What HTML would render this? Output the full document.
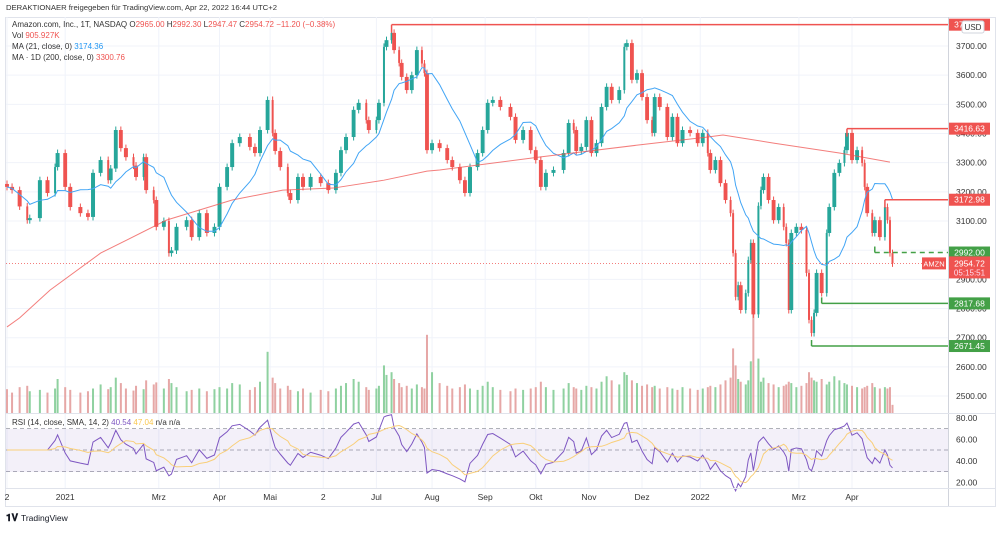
<!DOCTYPE html>
<html><head><meta charset="utf-8">
<style>
body{margin:0;background:#fff;font-family:"Liberation Sans",sans-serif;}
svg text{font-family:"Liberation Sans",sans-serif;}
</style></head>
<body>
<svg id="c" width="1000" height="529" viewBox="0 0 1000 529" xmlns="http://www.w3.org/2000/svg">
<text x="6" y="10" font-size="7.7" fill="#333">DERAKTIONAER freigegeben für TradingView.com, Apr 22, 2022 16:44 UTC+2</text>
<rect x="5.5" y="17.5" width="990" height="489" fill="#fff" stroke="#e0e3eb"/>
<g id="grid"></g>
<rect x="6" y="429" width="942" height="43" fill="#7e57c2" fill-opacity="0.09"/>
<g id="vol"></g><g id="candles"></g><g id="lines"></g><g id="levellines"></g>
<line x1="948.5" y1="17" x2="948.5" y2="506" stroke="#d1d4dc"/>
<line x1="6" y1="413.5" x2="996" y2="413.5" stroke="#e0e3eb"/>
<line x1="6" y1="488.5" x2="996" y2="488.5" stroke="#e0e3eb"/>
<g id="axis"></g><g id="levels"></g>
<g font-size="8">
<text x="12" y="27" fill="#333">Amazon.com, Inc., 1T, NASDAQ <tspan fill="#333">O</tspan><tspan fill="#ef5350">2965.00</tspan> H<tspan fill="#ef5350">2992.30</tspan> L<tspan fill="#ef5350">2947.47</tspan> C<tspan fill="#ef5350">2954.72</tspan> <tspan fill="#ef5350">−11.20 (−0.38%)</tspan></text>
<text x="12" y="38" fill="#333">Vol <tspan fill="#ef5350">905.927K</tspan></text>
<text x="12" y="49" fill="#333">MA (21, close, 0) <tspan fill="#2196f3">3174.36</tspan></text>
<text x="12" y="60" fill="#333">MA · 1D (200, close, 0) <tspan fill="#ef5350">3300.76</tspan></text>
<text x="12" y="425" fill="#333">RSI (14, close, SMA, 14, 2) <tspan fill="#7e57c2">40.54</tspan> <tspan fill="#f9c74f">47.04</tspan> n/a n/a</text>
</g>
<text x="6" y="521" font-size="10" font-weight="bold" fill="#131722">𝟏𝐕 <tspan font-weight="normal" font-size="8.5">TradingView</tspan></text>
</svg>
<script>
const days=[0,2,5,8,9,13,16,19,20,23,25,29,32,34,37,40,41,43,45,47,50,51,54,55,58,59,62,64,65,67,71,73,76,79,82,84,87,89,92,96,98,100,103,105,106,108,111,112,115,117,120,124,127,130,132,134,137,139,142,143,146,147,149,150,152,153,155,156,158,160,162,164,165,166,168,171,174,176,179,181,183,186,188,190,192,195,199,201,204,207,209,211,213,216,220,222,224,225,227,229,231,233,235,237,239,242,244,245,247,249,251,253,255,256,258,261,263,265,267,270,273,275,277,278,280,282,284,286,287,288,289,290,292,293,294,295,297,298,299,301,303,305,307,308,309,310,312,314,316,317,318,319,320,322,324,325,327,329,331,332,334,336,338,339,340,342,343,345,347,348,349,350];
const closes=[3217,3206,3150,3103,3110,3240,3196,3285,3333,3217,3148,3127,3114,3265,3309,3240,3280,3412,3350,3319,3290,3251,3319,3206,3172,3080,3100,2990,2999,3080,3103,3045,3127,3059,3080,3217,3285,3367,3388,3354,3333,3412,3515,3402,3340,3285,3196,3172,3251,3217,3251,3230,3206,3265,3343,3388,3481,3505,3446,3412,3446,3505,3697,3720,3745,3686,3642,3594,3549,3600,3686,3640,3607,3343,3367,3350,3309,3285,3240,3196,3285,3333,3412,3505,3515,3491,3457,3378,3412,3343,3309,3217,3265,3275,3333,3436,3412,3340,3354,3446,3333,3367,3491,3560,3515,3549,3697,3710,3584,3607,3525,3446,3402,3525,3491,3388,3457,3367,3412,3402,3367,3402,3333,3275,3309,3230,3172,3127,2990,2840,2880,2795,2853,2966,3025,2780,3152,3206,3251,3172,3103,3148,3080,3025,2795,3059,3080,3069,2922,2761,2716,2785,2922,2853,3059,3148,3265,3299,3343,3402,3309,3343,3299,3217,3127,3059,3103,3045,3148,3103,2990,2955];
const volumes=[3.5,3,3.8,4,3.2,3.4,3,3.6,5,3.8,3.4,3,3.2,3.6,4.2,3.5,3.8,5.2,4.4,3.6,3.3,4,3.5,4.8,4.2,4.5,3.6,5,4.4,3.8,3.2,3.4,3.6,3.2,3.5,3.8,3.6,4.4,4.2,3.4,3.8,4.6,9,5.2,4.4,3.6,4,3.4,3.2,3.6,3,3.4,3.2,3.6,4,4.4,5,4.6,3.8,3.4,3.6,4,7,5.6,6,5,4.4,3.8,4,3.6,4.2,3.8,3.6,11.5,6,4.4,4,3.6,3.8,4.2,3.6,3.4,4,4.6,3.8,3.4,3.2,3.6,3.4,3.6,3.8,4.6,3.8,3.4,3.6,4.4,3.8,3.6,3.4,4,3.8,3.6,4.6,5.4,4.8,4.2,6,5.6,4.8,4.4,4,4.2,3.8,4,3.6,3.8,3.6,3.4,3.8,3.6,3.4,3.6,3.8,4,3.8,4.2,4.8,5.2,9.5,7,5,4.6,4.2,4.8,7.6,15.5,8,4.6,5.2,4.4,4.2,3.8,4,4.2,4.6,4.4,3.8,4,4.4,6,5.2,4.8,4.6,5,4.2,4.6,5.4,4.8,4.4,4.2,4,3.8,3.6,3.8,4,4.4,3.8,3.6,3.8,3.6,3.8,1.2];
const ma200Days=[0,5,17,37,63,89,109,129,149,166,171,211,250,277,283,303,329,349];
const ma200Vals=[2737,2768,2863,2990,3103,3172,3206,3213,3240,3271,3275,3320,3361,3388,3395,3367,3333,3302];
const priceTicks=[3700,3600,3500,3400,3300,3200,3100,3000,2900,2800,2700,2600,2500];
const rsiTicks=[80,60,40,20];
const timeLabels=["2","2021","Mrz","Apr","Mai","2","Jul","Aug","Sep","Okt","Nov","Dez","2022","Mrz","Apr"];
const timeDays=[0,23,60,84,104,125,146,168,189,209,230,251,274,313,334];
const levelVals=[3773.08,3416.63,3172.98,2992.00,2817.68,2671.45];
const levelStartDays=[152,332,347,343,322,318];
const levelColors=["#ef5350","#ef5350","#ef5350","#43a047","#43a047","#43a047"];
const lastPrice=2954.72;

const NS="http://www.w3.org/2000/svg";
const xS=d=>7+d*2.53;
const yP=p=>46+(3700-p)*0.2917;
const yR=v=>450+(50-v)*1.075;
const yV=v=>413-v*6.8;
function mk(tag,attrs,parent){const e=document.createElementNS(NS,tag);for(const k in attrs)e.setAttribute(k,attrs[k]);parent.appendChild(e);return e;}
const G=id=>document.getElementById(id);

priceTicks.forEach(p=>{const l=mk('line',{x1:6,x2:948,y1:yP(p),y2:yP(p),stroke:'#f0f3fa'},G('grid'));

});
timeDays.forEach(d=>{const l=mk('line',{x1:xS(d),x2:xS(d),y1:17,y2:488,stroke:'#f0f3fa'},G('grid'));

});
[70,50,30].forEach(v=>{const l=mk('line',{x1:6,x2:948,y1:yR(v),y2:yR(v),stroke:'#9598a1','stroke-dasharray':'4,3','stroke-width':0.8},G('grid'));

});

for(let i=0;i<closes.length;i++){
 const o=i?closes[i-1]:closes[i]+10,c=closes[i];
 const up=c>=o,col=up?'#26a69a':'#ef5350';
 const x=xS(days[i]);
 const gap=i<closes.length-1?(days[i+1]-days[i])*2.53:2.53;
 const w=Math.max(2,Math.min(4,gap-1.2));
 const hi=Math.max(o,c)+12,lo=Math.min(o,c)-12;
 const wk=mk('line',{x1:x,x2:x,y1:yP(hi),y2:yP(lo),stroke:col,'stroke-width':1},G('candles'));
 
 
 const b=mk('rect',{x:x-w/2,y:yP(Math.max(o,c)),width:w,height:Math.max(1,Math.abs(yP(o)-yP(c))),fill:col},G('candles'));
 
 
 const v=mk('rect',{x:x-1,y:yV(volumes[i]),width:2,height:413-yV(volumes[i]),fill:up?'#8fd1a0':'#e6a7a6'},G('vol'));
 
 
}
let pts=[];
for(let i=0;i<closes.length;i++){let s=0,n=0;for(let j=i;j>=0&&days[i]-days[j]<21;j--){s+=closes[j];n++;}pts.push(xS(days[i])+','+yP(s/n));}
const ma21=mk('polyline',{points:pts.join(' '),fill:'none',stroke:'#42a5f5','stroke-width':1},G('lines'));


const m2=mk('polyline',{points:ma200Days.map((d,i)=>xS(d)+','+yP(ma200Vals[i])).join(' '),fill:'none',stroke:'#ef5350','stroke-opacity':0.75,'stroke-width':1},G('lines'));


const P=7;let rsi=[],ag=0,al=0;
for(let i=1;i<closes.length;i++){const ch=closes[i]-closes[i-1];const g=Math.max(ch,0),l=Math.max(-ch,0);
 if(i<=P){ag+=g/P;al+=l/P;}else{ag=(ag*(P-1)+g)/P;al=(al*(P-1)+l)/P;}
 rsi.push(i<P?50:100-100/(1+ag/(al||1e-6)));}
rsi.unshift(50);
let sm=rsi.map((v,i)=>{let s=0,n=0;for(let j=i;j>=0&&j>i-7;j--){s+=rsi[j];n++;}return s/n;});
const rl=mk('polyline',{points:rsi.map((v,i)=>xS(days[i])+','+yR(v)).join(' '),fill:'none',stroke:'#7e57c2','stroke-width':1},G('lines'));


const rs=mk('polyline',{points:sm.map((v,i)=>xS(days[i])+','+yR(v)).join(' '),fill:'none',stroke:'#f9cf7a','stroke-width':1},G('lines'));


const lp=mk('line',{x1:6,x2:948,y1:yP(lastPrice),y2:yP(lastPrice),stroke:'#ef5350','stroke-dasharray':'1,2','stroke-width':0.8},G('levellines'));


levelVals.forEach((v,i)=>{const y=yP(v);
 const l=mk('line',{x1:xS(levelStartDays[i]),x2:948,y1:y,y2:y,stroke:levelColors[i],'stroke-width':1.5},G('levellines'));
 if(i===3)l.setAttribute('stroke-dasharray','5,4');
 
 
 const st=mk('line',{x1:xS(levelStartDays[i]),x2:xS(levelStartDays[i]),y1:y,y2:y+(i<3?8:-6),stroke:levelColors[i],'stroke-width':1.5},G('levellines'));
 
 
 const r=mk('rect',{x:949,y:y-6,width:41,height:12,fill:levelColors[i]},G('levels'));
 
 
 const t=mk('text',{x:969.5,y:y+3,'font-size':8.5,fill:'#fff','text-anchor':'middle'},G('levels'));
 t.textContent=v.toFixed(2);
 
 
});
priceTicks.forEach(p=>{const t=mk('text',{x:956,y:yP(p)+3,'font-size':8.5,fill:'#333'},G('axis'));t.textContent=p.toFixed(2);

});
rsiTicks.forEach(v=>{const t=mk('text',{x:956,y:yR(v)+3,'font-size':8.5,fill:'#333'},G('axis'));t.textContent=v.toFixed(2);

});
timeLabels.forEach((s,i)=>{const t=mk('text',{x:xS(timeDays[i]),y:500,'font-size':8.5,fill:'#333','text-anchor':'middle'},G('axis'));t.textContent=s;

});
const yl=yP(lastPrice);
const ab=mk('rect',{x:922,y:yl-6,width:24,height:12,fill:'#ef5350'},G('levels'));


const at=mk('text',{x:934,y:yl+3,'font-size':7.5,fill:'#fff','text-anchor':'middle'},G('levels'));at.textContent='AMZN';


const pb=mk('rect',{x:949,y:yl-7,width:41,height:22,fill:'#ef5350'},G('levels'));


const pt=mk('text',{x:969.5,y:yl+3,'font-size':8.5,fill:'#fff','text-anchor':'middle'},G('levels'));pt.textContent=lastPrice.toFixed(2);


const ct=mk('text',{x:969.5,y:yl+12,'font-size':8,fill:'#fde','text-anchor':'middle'},G('levels'));ct.textContent='05:15:51';


const ub=mk('rect',{x:962,y:21,width:22,height:12,rx:2,fill:'#fff',stroke:'#d1d4dc'},G('levels'));


const ut=mk('text',{x:973,y:30,'font-size':8,fill:'#333','text-anchor':'middle'},G('levels'));ut.textContent='USD';


</script>
</body></html>
